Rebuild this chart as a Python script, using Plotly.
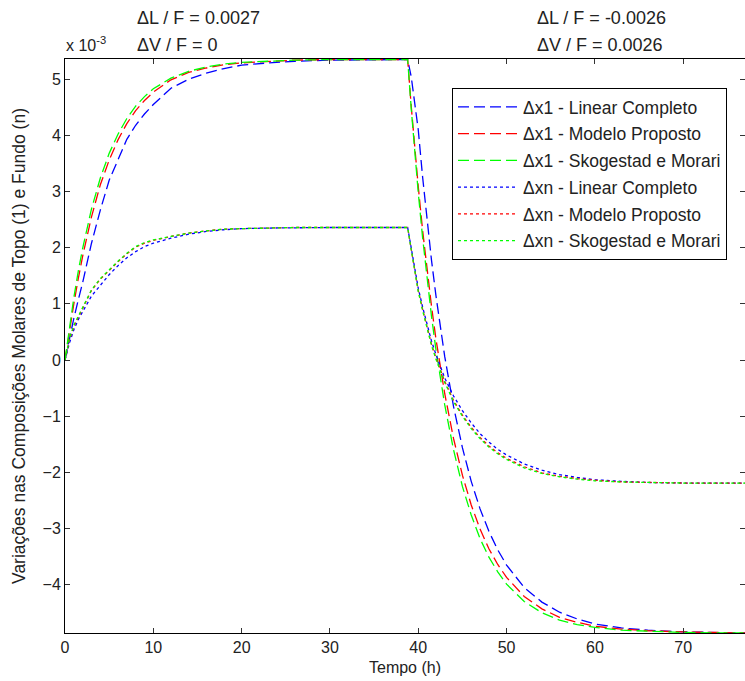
import plotly.graph_objects as go

# time (h)
t_rise = [0, 0.5, 1, 1.5, 2, 3, 4, 5, 6, 7, 8, 9, 10, 12, 14, 16, 18, 20, 23, 26, 30, 34, 38.8]
t_fall = [39.2, 39.6, 40, 40.5, 41, 41.5, 42, 42.5, 43, 44, 45, 46, 47, 48, 49, 50,
          52, 54, 56, 58, 60, 63, 66, 70, 74, 77]

# values in units of 1e-3
x1_lin_rise = [0, 0.40, 0.74, 1.07, 1.38, 2.08, 2.67, 3.20, 3.58, 3.93, 4.18, 4.38, 4.55, 4.84,
               5.00, 5.11, 5.19, 5.25, 5.29, 5.32, 5.34, 5.35, 5.35]
x1_lin_fall = [5.05, 4.55, 4.10, 3.25, 2.48, 1.78, 1.15, 0.58, 0.06, -0.83, -1.56, -2.16, -2.65,
               -3.05, -3.38, -3.65, -4.05, -4.31, -4.49, -4.61, -4.70, -4.77, -4.81, -4.84, -4.85, -4.86]
x1_mod_rise = [0, 0.52, 1.00, 1.45, 1.85, 2.55, 3.12, 3.56, 3.92, 4.21, 4.44, 4.62, 4.77, 4.99,
               5.12, 5.20, 5.26, 5.29, 5.32, 5.34, 5.35, 5.35, 5.35]
x1_mod_fall = [4.53, 3.78, 3.09, 2.30, 1.60, 0.96, 0.38, -0.14, -0.60, -1.40, -2.05, -2.58, -3.01,
               -3.36, -3.64, -3.87, -4.21, -4.43, -4.58, -4.67, -4.74, -4.79, -4.82, -4.84, -4.85, -4.86]
x1_sko_rise = [0, 0.59, 1.11, 1.58, 1.99, 2.69, 3.24, 3.68, 4.02, 4.30, 4.52, 4.69, 4.83, 5.02,
               5.14, 5.22, 5.27, 5.30, 5.32, 5.34, 5.35, 5.35, 5.35]
x1_sko_fall = [4.49, 3.70, 2.98, 2.17, 1.44, 0.78, 0.19, -0.33, -0.80, -1.60, -2.25, -2.76, -3.18,
               -3.51, -3.77, -3.99, -4.30, -4.50, -4.63, -4.71, -4.76, -4.81, -4.83, -4.85, -4.86, -4.86]

xn_lin_rise = [0, 0.30, 0.54, 0.72, 0.86, 1.14, 1.33, 1.52, 1.68, 1.82, 1.93, 2.02, 2.08, 2.17,
               2.24, 2.29, 2.32, 2.34, 2.35, 2.36, 2.36, 2.36, 2.36]
xn_lin_fall = [2.00, 1.63, 1.28, 0.94, 0.62, 0.34, 0.10, -0.12, -0.32, -0.64, -0.90, -1.12, -1.31,
               -1.46, -1.59, -1.69, -1.85, -1.96, -2.04, -2.09, -2.13, -2.16, -2.18, -2.19, -2.19, -2.19]
xn_mod_rise = [0, 0.36, 0.60, 0.76, 0.90, 1.24, 1.44, 1.60, 1.75, 1.89, 2.01, 2.08, 2.13, 2.20,
               2.26, 2.30, 2.33, 2.34, 2.35, 2.36, 2.36, 2.36, 2.36]
xn_mod_fall = [1.98, 1.60, 1.24, 0.90, 0.57, 0.28, 0.04, -0.18, -0.38, -0.72, -0.98, -1.20, -1.38,
               -1.53, -1.65, -1.75, -1.90, -2.01, -2.07, -2.11, -2.14, -2.17, -2.18, -2.19, -2.19, -2.19]
xn_sko_rise = [0, 0.38, 0.62, 0.78, 0.91, 1.25, 1.45, 1.61, 1.76, 1.90, 2.02, 2.09, 2.14, 2.20,
               2.26, 2.30, 2.33, 2.34, 2.35, 2.36, 2.36, 2.36, 2.36]
xn_sko_fall = [1.97, 1.58, 1.22, 0.88, 0.55, 0.26, 0.02, -0.20, -0.40, -0.74, -1.00, -1.22, -1.40,
               -1.55, -1.67, -1.77, -1.92, -2.02, -2.08, -2.12, -2.15, -2.17, -2.18, -2.19, -2.19, -2.19]

names = ["Δx1 - Linear Completo", "Δx1 - Modelo Proposto", "Δx1 - Skogestad e Morari",
         "Δxn - Linear Completo", "Δxn - Modelo Proposto", "Δxn - Skogestad e Morari"]
x_ticks = [0, 10, 20, 30, 40, 50, 60, 70]
y_ticks = [-4, -3, -2, -1, 0, 1, 2, 3, 4, 5]

t_all = t_rise + t_fall
series = [
    (x1_lin_rise + x1_lin_fall, "#0000ff", "11px,5px"),
    (x1_mod_rise + x1_mod_fall, "#ff0000", "11px,5px"),
    (x1_sko_rise + x1_sko_fall, "#00ff00", "11px,5px"),
    (xn_lin_rise + xn_lin_fall, "#0000ff", "3px,3px"),
    (xn_mod_rise + xn_mod_fall, "#ff0000", "3px,3px"),
    (xn_sko_rise + xn_sko_fall, "#00ff00", "3px,3px"),
]

FONT = "Liberation Sans, Arial, sans-serif"
fig = go.Figure()
for i, (vals, col, dash) in enumerate(series):
    fig.add_trace(go.Scatter(x=t_all, y=vals, mode="lines", name=names[i],
                             legendgroup=str(i),
                             line=dict(color=col, width=1.3, dash=dash)))

W, H = 745, 681
L, R, T, B = 65, 0, 59, 48
pw, ph = W - L - R, H - T - B


def px(xp):
    return (xp - L) / pw


def py(yp):
    return (H - B - yp) / ph


axis_common = dict(showgrid=False, zeroline=False, showline=True, linecolor="black",
                   linewidth=1, mirror="ticks", ticks="inside", ticklen=5,
                   tickcolor="#333", tickfont=dict(family=FONT, size=16, color="#222"))

fig.update_layout(
    width=W, height=H,
    margin=dict(l=L, r=R, t=T, b=B),
    paper_bgcolor="white", plot_bgcolor="white",
    font=dict(family=FONT, color="#222"),
    xaxis=dict(range=[0, 77], tickvals=x_ticks, **axis_common,
               title=dict(text="Tempo (h)", font=dict(family=FONT, size=16), standoff=6)),
    yaxis=dict(range=[-4.86, 5.36], tickvals=y_ticks, **axis_common,
               title=dict(text="Variações nas Composições Molares de Topo (1) e Fundo (n)",
                          font=dict(family=FONT, size=17.5), standoff=12)),
    legend=dict(x=px(452), y=py(88), xanchor="left", yanchor="top",
                bgcolor="white", bordercolor="black", borderwidth=1,
                font=dict(family=FONT, size=17.5, color="#222"),
                itemwidth=60, tracegroupgap=1),
    showlegend=True,
)

ann_font = dict(family=FONT, size=18, color="#222")
for text, xp, yp in [("ΔL / F = 0.0027", 135, 18), ("ΔV / F = 0", 135, 45),
                     ("ΔL / F = -0.0026", 535, 18), ("ΔV / F = 0.0026", 535, 45)]:
    fig.add_annotation(text=text, x=px(xp), y=py(yp), xref="paper", yref="paper",
                       xanchor="left", yanchor="middle", showarrow=False, font=ann_font)

fig.add_annotation(text="x 10<sup>-3</sup>", x=px(64), y=py(44), xref="paper", yref="paper",
                   xanchor="left", yanchor="middle", showarrow=False,
                   font=dict(family=FONT, size=16, color="#222"))

fig.write_html("out.html")
